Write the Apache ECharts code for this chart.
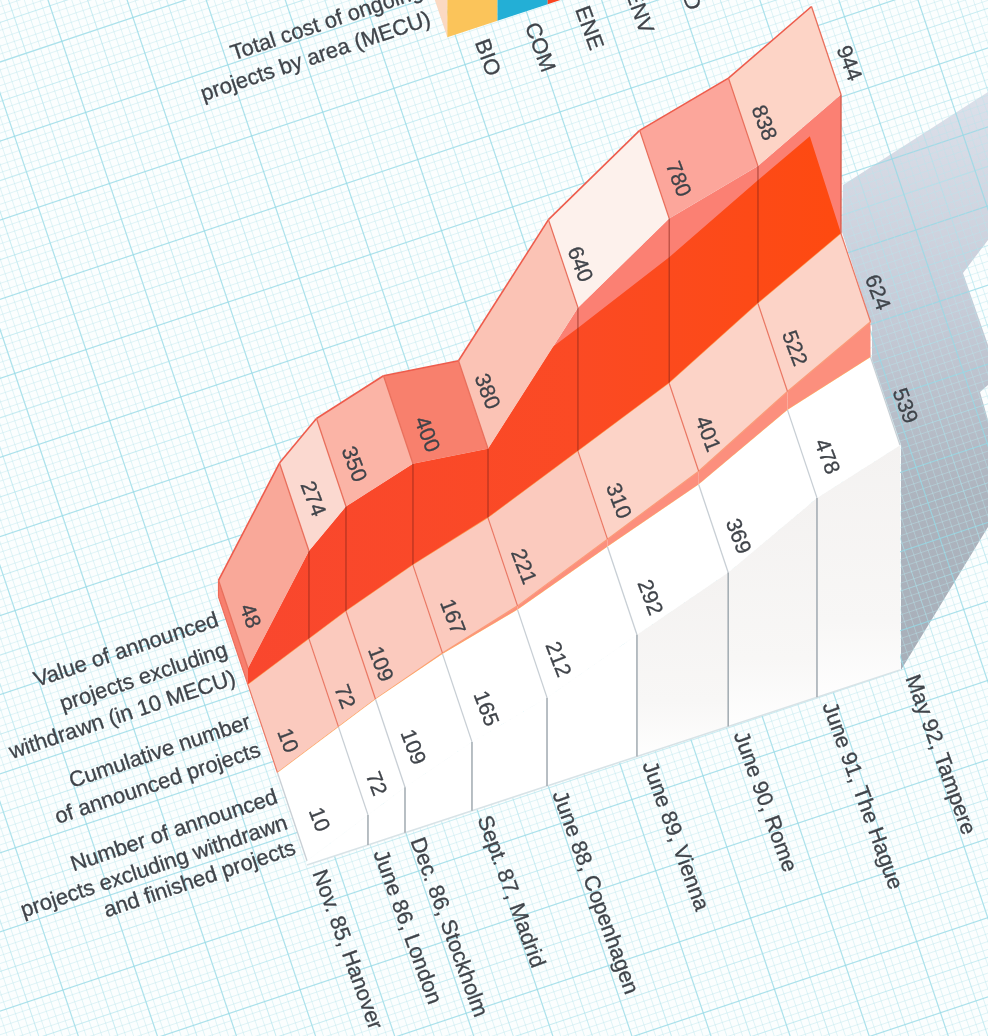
<!DOCTYPE html>
<html><head><meta charset="utf-8">
<style>html,body{margin:0;padding:0;background:#fbfefe}#c{width:988px;height:1036px}</style>
<script src="https://cdn.jsdelivr.net/npm/echarts@6/dist/echarts.min.js"></script>
</head><body><div id="c"></div>
<script>
// ---- data ----
const meetings = ['Nov. 85, Hanover','June 86, London','Dec. 86, Stockholm','Sept. 87, Madrid','June 88, Copenhagen','June 89, Vienna','June 90, Rome','June 91, The Hague','May 92, Tampere'];
const months = [0, 8.02, 12.89, 21.7, 31.57, 43.4, 55.4, 67.08, 78];
const numberExcl = [10, 72, 109, 165, 212, 292, 369, 478, 539];
const cumulative = [10, 72, 109, 167, 221, 310, 401, 522, 624];
const valueExcl = [48, 274, 350, 400, 380, 640, 780, 838, 944];
const areaNames = ['BIO', 'COM', 'ENE', 'ENV', 'IND'];
const areaMonths = [49.5, 56.1, 62.7, 69.3, 75.9, 82.5];
const areaCost = [420, 420, 420, 0, 0];           // tops are cut off by the page
const rowTitles = [
  ['Value of announced', 'projects excluding', 'withdrawn (in 10 MECU)'],
  ['Cumulative number', 'of announced projects'],
  ['Number of announced', 'projects excluding withdrawn', 'and finished projects'],
  ['Total cost of ongoing', 'projects by area (MECU)']
];
// upper limit of the fully saturated part of the red wall: [months, height]
const shadeEdge = [[40.1, 580], [43.6, 607], [55.4, 703], [67.1, 818], [73.9, 882], [77.9, 631]];

// ---- projection & layout ----
const DEPTH_X = 29.5, DEPTH_Y = 88, SHEAR = -0.329, MECU_K = 1.043;
const TEXT = '#3f4349', FONT = '"Liberation Sans", Arial, sans-serif';
const topCols = ['#f9a899', '#fbd9d0', '#fbb4a6', '#f8806d', '#fbc3b5', '#fdf1ec', '#fca69b', '#fdd4c6'];
const nudge1 = [[26,3],[22,13],[22,4],[28,11],[25,6],[27,7],[24,8],[24,3],[19,5]];
const nudge2 = [[24,12],[20,14],[19,9],[24,8],[20,5],[25,6],[23,7],[21,1],[21,15]];
const nudge3 = [[16,-8],[18,-8],[22,2],[28,15],[13,-13],[16,1],[23,5],[20,1],[22,13]];
const ROT_NUM = -69 * Math.PI / 180, ROT_DATE = -70 * Math.PI / 180, ROT_LEFT = 18.5 * Math.PI / 180;
const NUM_SIZE = 21.5, DATE_SIZE = 21.8, TITLE_SIZE = 21.9;

function projector(api) {
  const x0 = api.coord([0, 0])[0];
  return (m, v, d) => {
    const c = api.coord([m, v]);
    return [c[0] - DEPTH_X * d, c[1] + SHEAR * (c[0] - x0) - DEPTH_Y * d];
  };
}
const h3 = i => cumulative[i] + (valueExcl[i] - cumulative[i]) * MECU_K;
const poly = (points, fill, z2) => ({type: 'polygon', z2: z2 || 0, shape: {points}, style: {fill}});
const line = (a, b, stroke, lineWidth, z2) => ({type: 'line', z2: z2 || 3, shape: {x1: a[0], y1: a[1], x2: b[0], y2: b[1]}, style: {stroke, lineWidth, fill: null}});
const txt = (p, text, rotation, size, align, z2) => ({type: 'text', x: p[0], y: p[1], rotation, z2: z2 || 6,
  style: {text, fill: TEXT, stroke: TEXT, lineWidth: 0.3, fontSize: size, fontFamily: FONT, align: align || 'center', verticalAlign: 'middle'}});
const shift = (p, n) => [p[0] + n[0], p[1] + n[1]];

function renderRow1(params, api) {
  const P = projector(api), i = params.dataIndex, ch = [], m = months, v = numberExcl;
  if (i < 8) {
    const wall = i >= 5 ? new echarts.graphic.LinearGradient(0, 0, 0, 1, [{offset: 0, color: '#f4f2f1'}, {offset: 0.7, color: '#f8f7f6'}, {offset: 1, color: '#fefefe'}]) : '#ffffff';
    ch.push(poly([P(m[i],0,0), P(m[i+1],0,0), P(m[i+1],v[i+1],0), P(m[i],v[i],0)], wall));
    ch.push(poly([P(m[i],v[i],0), P(m[i+1],v[i+1],0), P(m[i+1],v[i+1],1), P(m[i],v[i],1)], '#ffffff'));
    ch.push(line(P(m[i],0,0), P(m[i+1],0,0), '#d8e3e7', 1.5));
  }
  ch.push(line(P(m[i],v[i],0), P(m[i],v[i],1), '#c8cfd5', 1.3));
  if (i < 8 && i > 0) ch.push(line(P(m[i],0,0), P(m[i],v[i],0), '#a0a9b0', 1.5));
  ch.push(txt(shift(P(m[i],v[i],0.5), nudge1[i]), String(v[i]), ROT_NUM, NUM_SIZE));
  return {type: 'group', children: ch};
}
function renderRow2(params, api) {
  const P = projector(api), i = params.dataIndex, ch = [], m = months, c = cumulative, n = numberExcl;
  if (i < 8) {
    ch.push(poly([P(m[i],n[i],1), P(m[i+1],n[i+1],1), P(m[i+1],c[i+1],1), P(m[i],c[i],1)], '#fc8f7d'));
    const top = i >= 5 ? '#fcd3c7' : '#fbcabe';
    ch.push(poly([P(m[i],c[i],1), P(m[i+1],c[i+1],1), P(m[i+1],c[i+1],2), P(m[i],c[i],2)], top));
    ch.push(line(P(m[i],c[i],1), P(m[i+1],c[i+1],1), '#fb9a78', 1.2));
    ch.push(line(P(m[i],n[i],1), P(m[i+1],n[i+1],1), '#ffb45f', 1));
  }
  ch.push(line(P(m[i],c[i],1), P(m[i],c[i],2), '#ea7763', 1.2));
  ch.push(txt(shift(P(m[i],c[i],1.5), nudge2[i]), String(c[i]), ROT_NUM, NUM_SIZE));
  return {type: 'group', children: ch};
}
function renderRow3(params, api) {
  const P = projector(api), i = params.dataIndex, ch = [], m = months, c = cumulative;
  if (i === 0) {
    // pale wall, side face, then the saturated wall over it
    const pale = [], dark = [], low = [];
    for (let k = 0; k < 9; k++) { pale.push(P(m[k], h3(k), 2)); low.unshift(P(m[k], c[k], 2)); }
    ch.push(poly(pale.concat(low), '#fb8073'));
    ch.push(poly([P(0,h3(0),3), P(0,h3(0),2), P(0,c[0],2), P(0,c[0],3)], '#f77f6e', 1));
    for (let k = 0; k <= 4; k++) dark.push(P(m[k], h3(k), 2));
    shadeEdge.forEach(s => dark.push(P(s[0], s[1], 2)));
    ch.push({type: 'polygon', z2: 1, shape: {points: dark.concat(low)}, style: {
      fill: new echarts.graphic.LinearGradient(0, 0, 1, 0, [{offset: 0, color: '#f9472e'}, {offset: 0.55, color: '#fb4a24'}, {offset: 1, color: '#fe4a10'}])}});
  }
  if (i < 8) {
    ch.push(poly([P(m[i],h3(i),2), P(m[i+1],h3(i+1),2), P(m[i+1],h3(i+1),3), P(m[i],h3(i),3)], topCols[i], 2));
    ch.push(line(P(m[i],h3(i),3), P(m[i+1],h3(i+1),3), '#ee5c4c', 1.6));
    ch.push(line(P(m[i],c[i],2), P(m[i+1],c[i+1],2), '#fd9a50', 1.2));
  }
  ch.push(line(P(m[i],h3(i),2), P(m[i],h3(i),3), '#e96f5c', 1.3));
  if (i > 0) ch.push(line(P(m[i],c[i],2), P(m[i],h3(i),2), 'rgba(130,35,25,0.7)', 1));
  if (i === 0) {
    ch.push(line(P(0,h3(0),3), P(0,c[0],3), '#ee6a58', 1.2));
    ch.push(line(P(0,c[0],3), P(0,c[0],2), '#ee6a58', 1.2));
  }
  if (i === 8) ch.push(line(P(m[8],h3(8),2), P(m[8],c[8],2), '#f2705f', 1));
  ch.push(txt(shift(P(m[i],h3(i),2.5), nudge3[i]), String(valueExcl[i]), ROT_NUM, NUM_SIZE));
  return {type: 'group', children: ch};
}
function renderDates(params, api) {
  const P = projector(api), i = params.dataIndex;
  return txt(shift(P(months[i],0,0), [11,6]), meetings[i], ROT_DATE, DATE_SIZE, 'left');
}
const areaColors = ['#fbc45a', '#23afd6', '#f9431f', '#f9431f', '#f9431f'];
function renderAreas(params, api) {
  const P = projector(api), i = params.dataIndex, ch = [], d = 8, a = areaMonths;
  if (areaCost[i] > 0) {
    if (i === 0) ch.push(poly([P(a[0],0,d), P(a[0],0,d+0.46), P(a[0],areaCost[0],d+0.46), P(a[0],areaCost[0],d)], '#fbd9c2'));
    ch.push(poly([P(a[i],0,d), P(a[i+1],0,d), P(a[i+1],areaCost[i],d), P(a[i],areaCost[i],d)], areaColors[i], 1));
  }
  ch.push(txt(shift(P(a[i],0,d), [33,3]), areaNames[i], ROT_DATE, DATE_SIZE, 'left'));
  return {type: 'group', children: ch};
}

// ---- scenery (graph paper, shadow, row titles) ----
function paper() {
  const els = [];
  const ang = 18.5 * Math.PI / 180, STEP = 7.5;
  const shadow = [[843,185],[988,92],[988,240],[963,273],[988,345],[988,385],[980,392],[988,420],[988,527],[901,670],[901,445],[872,360],[872,327],[842,232]];
  els.push({type: 'polygon', z: 0, shape: {points: shadow}, style: {
    fill: new echarts.graphic.LinearGradient(0, 0, 0, 1, [{offset: 0, color: '#dce0ea'}, {offset: 0.35, color: '#c8cdd9'}, {offset: 0.7, color: '#adb4be'}, {offset: 1, color: '#a8afb9'}])}});
  const lines = [];
  const styleOf = r => r % 10 === 0 ? {stroke: 'rgba(150,218,230,0.8)', lineWidth: 1.2}
    : r % 5 === 0 ? {stroke: 'rgba(170,226,235,0.65)', lineWidth: 1}
    : {stroke: 'rgba(185,230,237,0.55)', lineWidth: 0.7};
  for (let k = -190; k <= 190; k++) {
    const rh = ((k % 10) + 10) % 10, rv = (((k - 8) % 10) + 10) % 10;
    lines.push({type: 'line', shape: {x1: -1500, y1: k * STEP, x2: 1500, y2: k * STEP}, style: styleOf(rh)});
    lines.push({type: 'line', shape: {x1: k * STEP + 5.2, y1: -1500, x2: k * STEP + 5.2, y2: 1500}, style: styleOf(rv)});
  }
  els.push({type: 'group', z: 1, x: 0, y: 62, rotation: ang, children: lines});
  const anchors = [
    [[218,620],[227,650],[235,678]],
    [[250,722],[260,750]],
    [[277,797],[287,823],[295,848]],
    [[422,-9],[430,19]]
  ];
  rowTitles.forEach((block, b) => block.forEach((t, l) => els.push({type: 'text', z: 5, x: anchors[b][l][0], y: anchors[b][l][1], rotation: ROT_LEFT,
    style: {text: t, fill: TEXT, stroke: TEXT, lineWidth: 0.3, fontSize: TITLE_SIZE, fontFamily: FONT, align: 'right', verticalAlign: 'middle'}})));
  return els;
}

const idx = arr => arr.map((_, i) => [i]);
const custom = (name, renderItem, data, z) => ({type: 'custom', name, renderItem, data, z, silent: true, animation: false, clip: false, encode: {x: -1, y: -1}});
const chart = echarts.init(document.getElementById('c'), null, {renderer: 'canvas'});
chart.setOption({
  animation: false,
  backgroundColor: '#fbfefe',
  graphic: {elements: paper()},
  grid: {left: 307, right: 88, bottom: 171, top: 448},
  xAxis: {type: 'value', min: 0, max: 78, show: false},
  yAxis: {type: 'value', min: 0, max: 1000, show: false},
  series: [
    custom('Total cost of ongoing projects by area (MECU)', renderAreas, idx(areaNames), 2),
    custom('Number of announced projects excluding withdrawn and finished projects', renderRow1, idx(numberExcl), 5),
    custom('Cumulative number of announced projects', renderRow2, idx(cumulative), 4),
    custom('Value of announced projects excluding withdrawn (in 10 MECU)', renderRow3, idx(valueExcl), 3),
    custom('Meetings', renderDates, idx(meetings), 6)
  ]
});
</script></body></html>
